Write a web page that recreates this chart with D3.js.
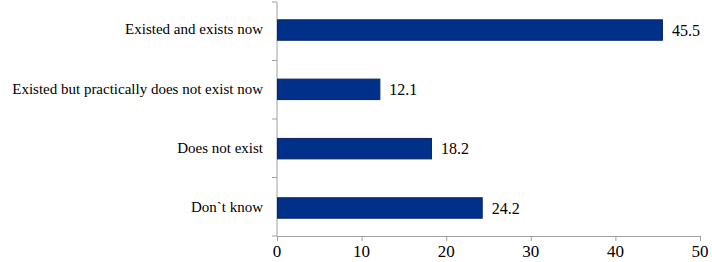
<!DOCTYPE html>
<html>
<head>
<meta charset="utf-8">
<script src="https://cdn.jsdelivr.net/npm/d3@7"></script>
<style>
  body { margin: 0; background: #fff; }
  #chart-area { position: relative; width: 712px; height: 262px; overflow: hidden; }
  #chart-area svg { position: absolute; left: 0; top: 0; }
  .lbl { position: absolute; white-space: nowrap; color: #000;
         font-family: 'Liberation Serif', 'Times New Roman', serif; }
</style>
</head>
<body>
<div id="chart-area"></div>
<script>
// data
let categories = ["Existed and exists now", "Existed but practically does not exist now", "Does not exist", "Don`t know"];
let values = [45.5, 12.1, 18.2, 24.2];
let xTicks = [0, 10, 20, 30, 40, 50];

let margin = {top: 2, right: 12, bottom: 26, left: 277};
let width = 712 - margin.left - margin.right,
    height = 262 - margin.top - margin.bottom;

let area = d3.select("#chart-area");
let svg = area.append("svg")
    .attr("width", 712)
    .attr("height", 262)
  .append("g")
    .attr("transform", "translate(" + margin.left + "," + margin.top + ")");

// text drawn as html so the serif font is used; baseline placed at y
function label(text, x, y, anchor, size) {
    let shift = anchor === "end" ? "-100%" : anchor === "middle" ? "-50%" : "0";
    area.append("div")
        .attr("class", "lbl")
        .style("left", x + "px")
        .style("top", (y - 0.8375 * size) + "px")
        .style("font-size", size + "px")
        .style("line-height", size + "px")
        .style("transform", "translateX(" + shift + ")")
        .text(text);
}

// scales
let x = d3.scaleLinear().domain([0, 50]).range([0, width]);
let y = d3.scaleBand().domain(categories).range([0, height]).paddingInner(0.655).paddingOuter(0.3);

// x axis
let xAxis = svg.append("g")
    .attr("transform", "translate(0," + height + ")")
    .call(d3.axisBottom(x).tickValues(xTicks).tickSize(5).tickSizeOuter(0).tickFormat(""));
xAxis.select(".domain").attr("stroke", "#a0a0a0");
xAxis.selectAll(".tick line").attr("stroke", "#a0a0a0");
xTicks.forEach(t => label(d3.format("d")(t), margin.left + x(t), 257, "middle", 17));

// y axis: boundary ticks between categories
let yAxis = svg.append("g");
yAxis.append("line")
    .attr("x1", 0).attr("x2", 0).attr("y1", 0).attr("y2", height)
    .attr("stroke", "#a0a0a0");
let bounds = d3.range(categories.length + 1).map(i => i * height / categories.length);
yAxis.selectAll(".yt").data(bounds).enter().append("line")
    .attr("x1", -5).attr("x2", 0)
    .attr("y1", d => d).attr("y2", d => d)
    .attr("stroke", "#a0a0a0");

categories.forEach(c => label(c, 263, margin.top + y(c) + y.bandwidth() / 2 + 5, "end", 15));

// bars
let rows = categories.map((c, i) => ({cat: c, val: values[i]}));
svg.selectAll("rect.bar").data(rows).enter().append("rect")
    .attr("class", "bar")
    .attr("x", 0.5)
    .attr("y", d => y(d.cat))
    .attr("width", d => x(d.val))
    .attr("height", y.bandwidth())
    .attr("fill", "#00308a")
    .attr("stroke", "#0b2463")
    .attr("stroke-width", 1);

rows.forEach(d => label(d.val.toFixed(1), margin.left + x(d.val) + 10,
    margin.top + y(d.cat) + y.bandwidth() / 2 + 6, "start", 16));
</script>
</body>
</html>
